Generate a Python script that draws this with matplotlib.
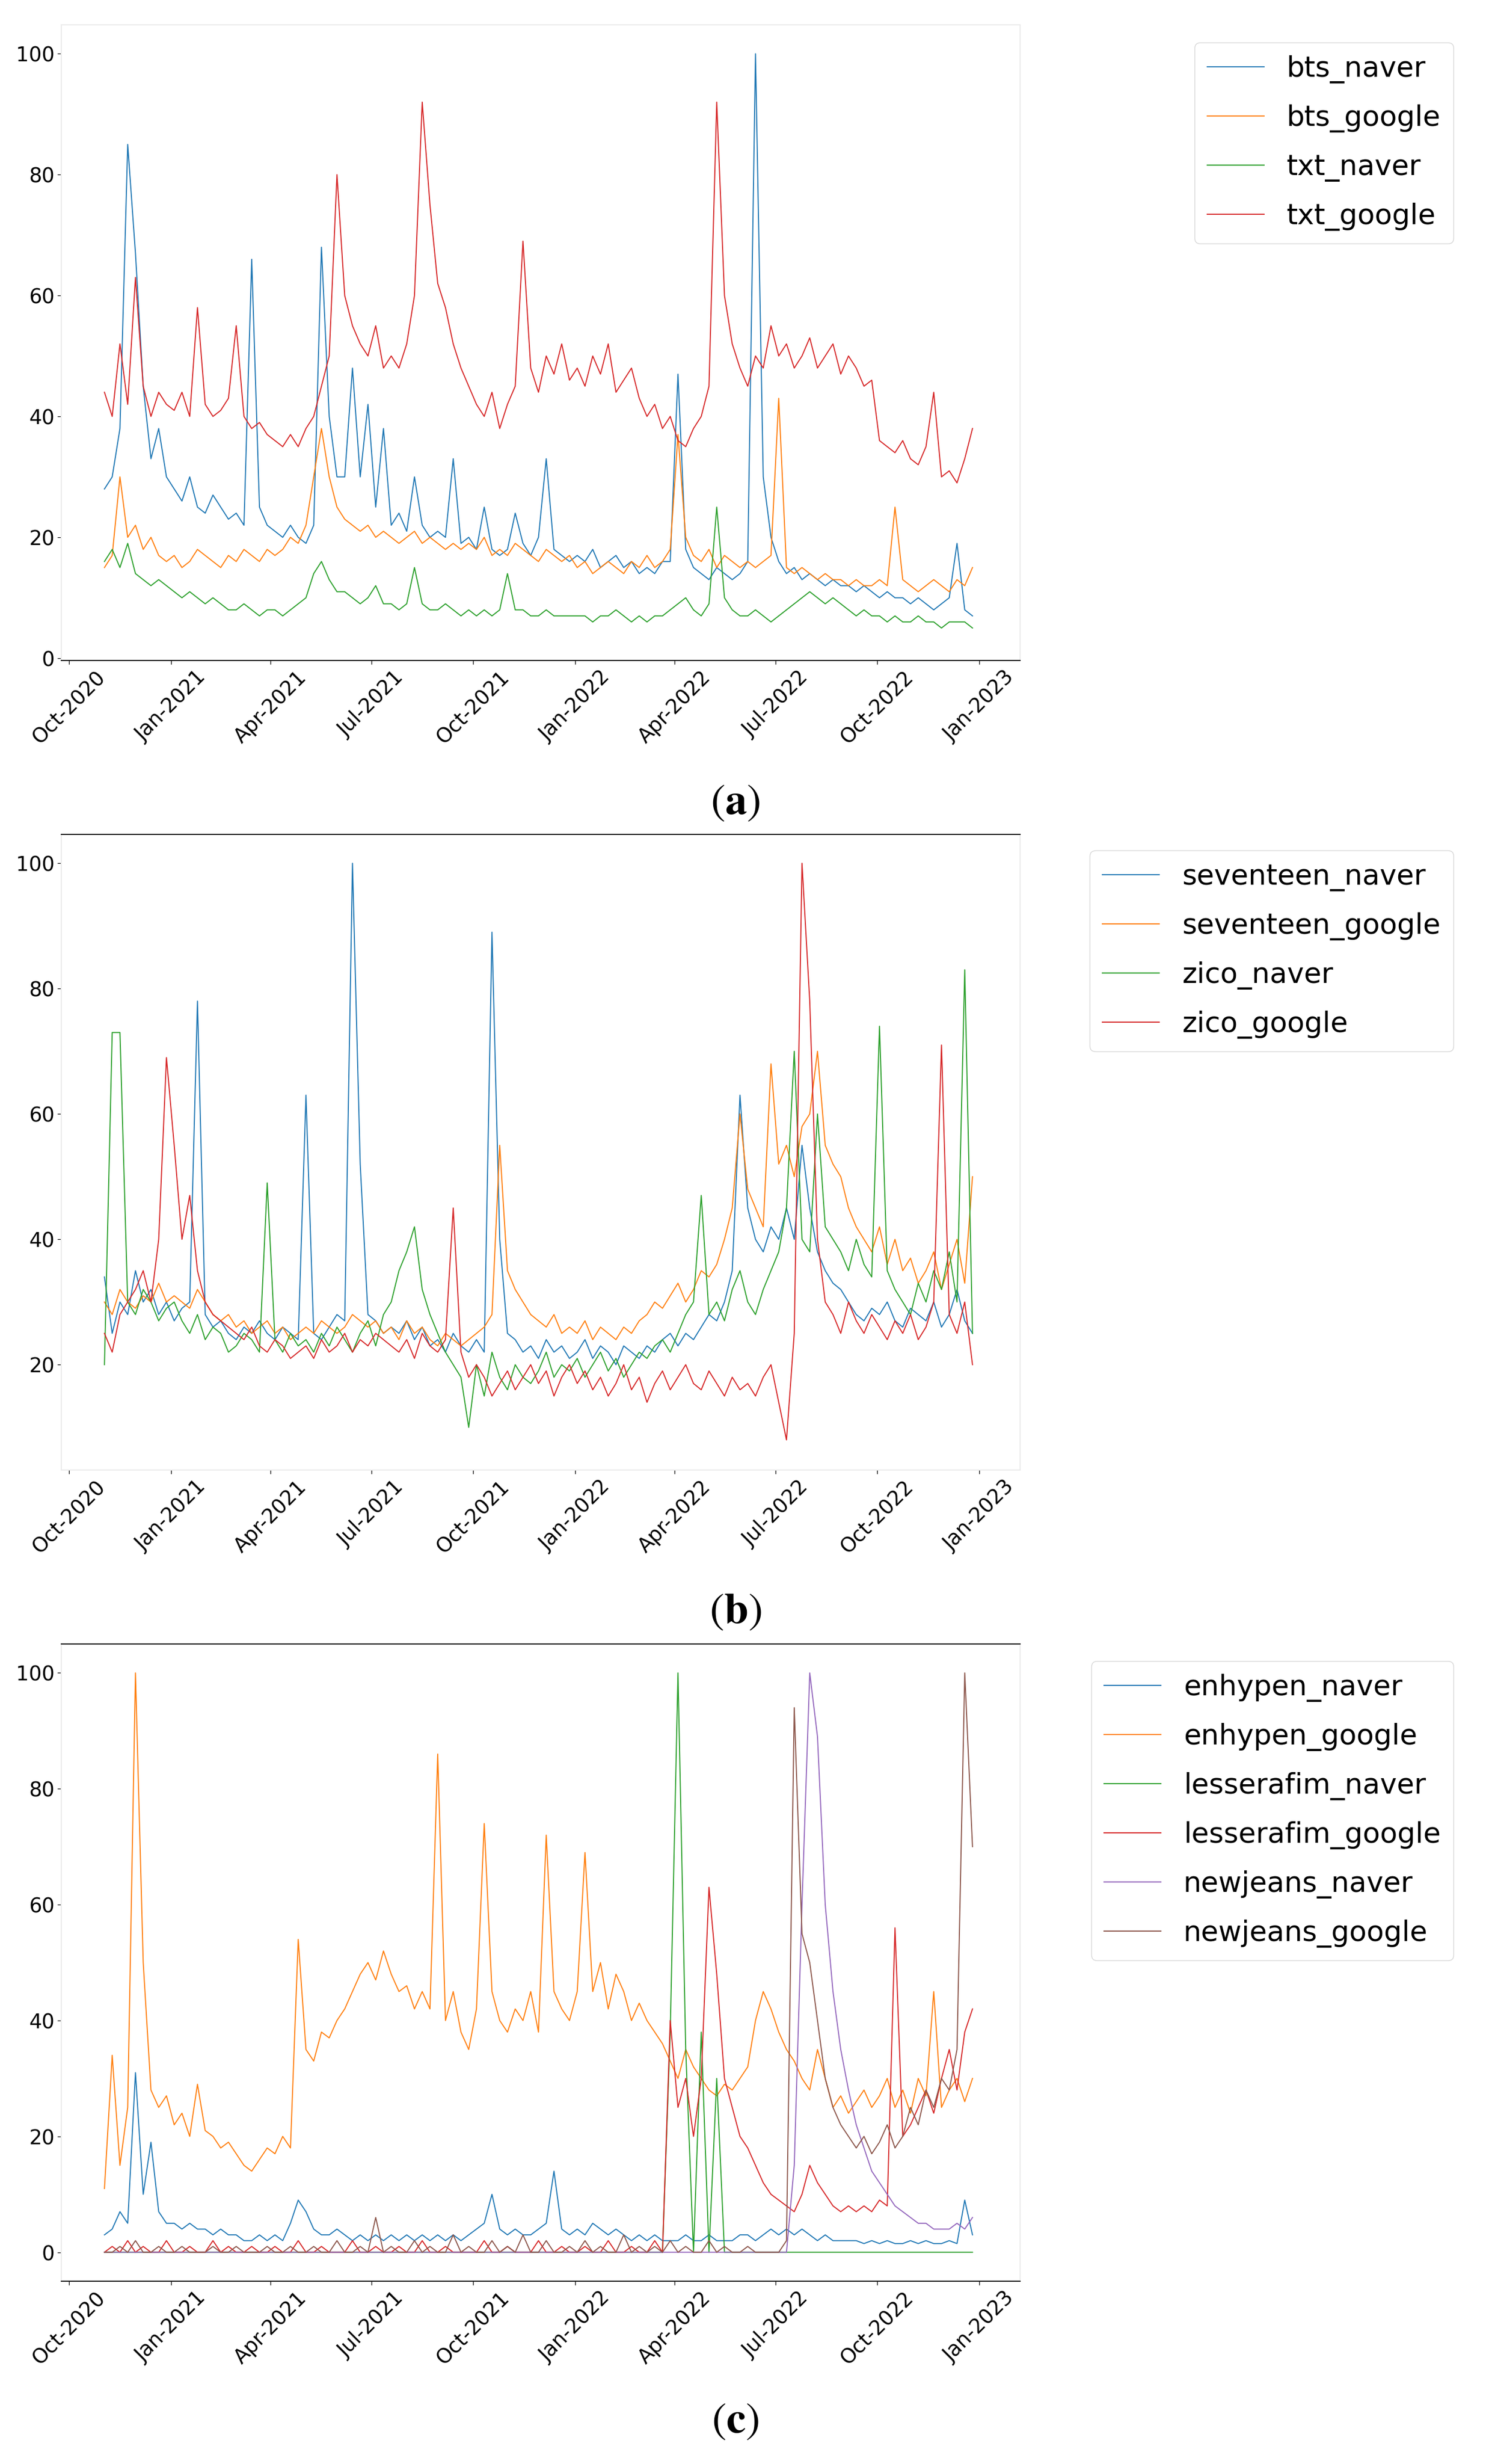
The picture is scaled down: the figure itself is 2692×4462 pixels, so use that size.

# Weekly search-interest index for K-pop artists on Naver and Google.
# Three stacked panels (a)-(c), each with its legend on the right.

import numpy as np
import pandas as pd
import matplotlib
matplotlib.use("Agg")
import matplotlib.pyplot as plt
import matplotlib.dates as mdates

# --- data (one value per week from 2020-11-02) ---
START_DATE = "2020-11-02"

BTS_NAVER = [28, 30, 38, 85, 67, 45, 33, 38, 30,
             28, 26, 30, 25, 24, 27, 25, 23,
             24, 22, 66, 25, 22,
             21, 20, 22, 20,
             19, 22, 68, 40, 30,
             30, 48, 30, 42, 25, 38,
             22, 24, 21, 30, 22, 20, 21,
             20, 33, 19, 20,
             18, 25, 18, 17,
             18, 24, 19, 17, 20,
             33, 18, 17, 16,
             17, 16, 18, 15, 16, 17, 15, 16, 14,
             15, 14, 16, 16, 47, 18, 15, 14,
             13, 15, 14, 13, 14,
             16, 100, 30, 20,
             16, 14, 15, 13, 14, 13, 12, 13, 12,
             12, 11, 12, 11, 10, 11, 10, 10,
             9, 10, 9, 8, 9, 10, 19, 8, 7]
BTS_GOOGLE = [15, 17, 30, 20, 22, 18, 20, 17, 16,
              17, 15, 16, 18, 17, 16, 15, 17,
              16, 18, 17, 16, 18,
              17, 18, 20, 19,
              22, 30, 38, 30, 25,
              23, 22, 21, 22, 20, 21,
              20, 19, 20, 21, 19, 20, 19,
              18, 19, 18, 19,
              18, 20, 17, 18,
              17, 19, 18, 17, 16,
              18, 17, 16, 17,
              15, 16, 14, 15, 16, 15, 14, 16, 15,
              17, 15, 16, 18, 37, 20, 17, 16,
              18, 15, 17, 16, 15,
              16, 15, 16, 17,
              43, 15, 14, 15, 14, 13, 14, 13, 13,
              12, 13, 12, 12, 13, 12, 25, 13,
              12, 11, 12, 13, 12, 11, 13, 12, 15]
TXT_NAVER = [16, 18, 15, 19, 14, 13, 12, 13, 12,
             11, 10, 11, 10, 9, 10, 9, 8,
             8, 9, 8, 7, 8,
             8, 7, 8, 9,
             10, 14, 16, 13, 11,
             11, 10, 9, 10, 12, 9,
             9, 8, 9, 15, 9, 8, 8,
             9, 8, 7, 8,
             7, 8, 7, 8,
             14, 8, 8, 7, 7,
             8, 7, 7, 7,
             7, 7, 6, 7, 7, 8, 7, 6, 7,
             6, 7, 7, 8, 9, 10, 8, 7,
             9, 25, 10, 8, 7,
             7, 8, 7, 6,
             7, 8, 9, 10, 11, 10, 9, 10, 9,
             8, 7, 8, 7, 7, 6, 7, 6,
             6, 7, 6, 6, 5, 6, 6, 6, 5]
TXT_GOOGLE = [44, 40, 52, 42, 63, 45, 40, 44, 42,
              41, 44, 40, 58, 42, 40, 41, 43,
              55, 40, 38, 39, 37,
              36, 35, 37, 35,
              38, 40, 45, 50, 80,
              60, 55, 52, 50, 55, 48,
              50, 48, 52, 60, 92, 75, 62,
              58, 52, 48, 45,
              42, 40, 44, 38,
              42, 45, 69, 48, 44,
              50, 47, 52, 46,
              48, 45, 50, 47, 52, 44, 46, 48, 43,
              40, 42, 38, 40, 36, 35, 38, 40,
              45, 92, 60, 52, 48,
              45, 50, 48, 55,
              50, 52, 48, 50, 53, 48, 50, 52, 47,
              50, 48, 45, 46, 36, 35, 34, 36,
              33, 32, 35, 44, 30, 31, 29, 33, 38]

SEVENTEEN_NAVER = [34, 25, 30, 28, 35, 30, 32, 28, 30,
                   27, 29, 30, 78, 28, 26, 27, 25,
                   24, 26, 25, 27, 25,
                   24, 26, 25, 24,
                   63, 25, 24, 26, 28,
                   27, 100, 52, 28, 27, 25,
                   26, 25, 27, 24, 26, 23, 24,
                   22, 25, 23, 22,
                   24, 22, 89, 40,
                   25, 24, 22, 23, 21,
                   24, 22, 23, 21,
                   22, 24, 21, 23, 22, 20, 23, 22, 21,
                   23, 22, 24, 25, 23, 25, 24, 26,
                   28, 27, 30, 35, 63,
                   45, 40, 38, 42,
                   40, 45, 40, 55, 45, 38, 35, 33, 32,
                   30, 28, 27, 29, 28, 30, 27, 26,
                   29, 28, 27, 30, 26, 28, 32, 27, 25]
SEVENTEEN_GOOGLE = [30, 28, 32, 30, 29, 31, 30, 33, 30,
                    31, 30, 29, 32, 30, 28, 27, 28,
                    26, 27, 25, 26, 27,
                    25, 26, 24, 25,
                    26, 25, 27, 26, 25,
                    26, 28, 27, 26, 27, 25,
                    26, 24, 27, 25, 26, 24, 23,
                    25, 24, 23, 24,
                    25, 26, 28, 55,
                    35, 32, 30, 28, 27,
                    26, 28, 25, 26,
                    25, 27, 24, 26, 25, 24, 26, 25, 27,
                    28, 30, 29, 31, 33, 30, 32, 35,
                    34, 36, 40, 45, 60,
                    48, 45, 42, 68,
                    52, 55, 50, 58, 60, 70, 55, 52, 50,
                    45, 42, 40, 38, 42, 36, 40, 35,
                    37, 33, 35, 38, 32, 36, 40, 33, 50]
ZICO_NAVER = [20, 73, 73, 30, 28, 32, 30, 27, 29,
              30, 27, 25, 28, 24, 26, 25, 22,
              23, 25, 24, 22, 49,
              24, 22, 25, 23,
              24, 22, 25, 23, 26,
              24, 22, 25, 27, 23, 28,
              30, 35, 38, 42, 32, 28, 25,
              22, 20, 18, 10,
              20, 15, 22, 18,
              16, 20, 18, 17, 19,
              22, 18, 20, 19,
              21, 18, 20, 22, 19, 21, 18, 20, 22,
              21, 23, 24, 22, 25, 28, 30, 47,
              28, 30, 27, 32, 35,
              30, 28, 32, 35,
              38, 45, 70, 40, 38, 60, 42, 40, 38,
              35, 40, 36, 34, 74, 35, 32, 30,
              28, 33, 30, 35, 32, 38, 30, 83, 25]
ZICO_GOOGLE = [25, 22, 28, 30, 32, 35, 30, 40, 69,
               55, 40, 47, 35, 30, 28, 27, 26,
               25, 24, 26, 23, 22,
               24, 23, 21, 22,
               23, 21, 24, 22, 23,
               25, 22, 24, 23, 25, 24,
               23, 22, 24, 21, 25, 23, 22,
               24, 45, 22, 18,
               20, 18, 15, 17,
               19, 16, 18, 20, 17,
               19, 15, 18, 20,
               17, 19, 16, 18, 15, 17, 20, 16, 18,
               14, 17, 19, 16, 18, 20, 17, 16,
               19, 17, 15, 18, 16,
               17, 15, 18, 20,
               14, 8, 25, 100, 78, 40, 30, 28, 25,
               30, 27, 25, 28, 26, 24, 27, 25,
               28, 24, 26, 30, 71, 28, 25, 30, 20]

ENHYPEN_NAVER = [3, 4, 7, 5, 31, 10, 19, 7, 5,
                 5, 4, 5, 4, 4, 3, 4, 3,
                 3, 2, 2, 3, 2,
                 3, 2, 5, 9,
                 7, 4, 3, 3, 4,
                 3, 2, 3, 2, 3, 2,
                 3, 2, 3, 2, 3, 2, 3,
                 2, 3, 2, 3,
                 4, 5, 10, 4,
                 3, 4, 3, 3, 4,
                 5, 14, 4, 3,
                 4, 3, 5, 4, 3, 4, 3, 2, 3,
                 2, 3, 2, 2, 2, 3, 2, 2,
                 3, 2, 2, 2, 3,
                 3, 2, 3, 4,
                 3, 4, 3, 4, 3, 2, 3, 2, 2,
                 2, 2, 1.5, 2, 1.5, 2, 1.5, 1.5,
                 2, 1.5, 2, 1.5, 1.5, 2, 1.5, 9, 3]
ENHYPEN_GOOGLE = [11, 34, 15, 25, 100, 50, 28, 25, 27,
                  22, 24, 20, 29, 21, 20, 18, 19,
                  17, 15, 14, 16, 18,
                  17, 20, 18, 54,
                  35, 33, 38, 37, 40,
                  42, 45, 48, 50, 47, 52,
                  48, 45, 46, 42, 45, 42, 86,
                  40, 45, 38, 35,
                  42, 74, 45, 40,
                  38, 42, 40, 45, 38,
                  72, 45, 42, 40,
                  45, 69, 45, 50, 42, 48, 45, 40, 43,
                  40, 38, 36, 33, 30, 35, 32, 30,
                  28, 27, 29, 28, 30,
                  32, 40, 45, 42,
                  38, 35, 33, 30, 28, 35, 30, 25, 27,
                  24, 26, 28, 25, 27, 30, 25, 28,
                  24, 30, 27, 45, 25, 28, 30, 26, 30]
LESSERAFIM_NAVER = [0] * 70 + [0, 0, 0, 38, 100, 35, 0, 38,
                               0, 30, 0, 0, 0] + [0] * 30
LESSERAFIM_GOOGLE = [0, 1, 0, 2, 0, 1, 0, 0, 2,
                     0, 0, 1, 0, 0, 2, 0, 1,
                     0, 0, 1, 0, 0,
                     1, 0, 0, 2,
                     0, 0, 1, 0, 0,
                     0, 2, 0, 0, 1, 0,
                     0, 1, 0, 0, 2, 0, 0,
                     1, 0, 0, 0,
                     0, 2, 0, 0,
                     1, 0, 0, 0, 2,
                     0, 0, 1, 0,
                     0, 1, 0, 0, 2, 0, 0, 1, 0,
                     0, 2, 0, 40, 25, 30, 20, 30,
                     63, 48, 30, 25, 20,
                     18, 15, 12, 10,
                     9, 8, 7, 10, 15, 12, 10, 8, 7,
                     8, 7, 8, 7, 9, 8, 56, 20,
                     22, 25, 28, 24, 30, 35, 28, 38, 42]
NEWJEANS_NAVER = [0] * 87 + [0, 0, 15, 60, 100, 89, 60, 45, 35,
                             28, 22, 18, 14, 12, 10, 8, 7,
                             6, 5, 5, 4, 4, 4, 5, 4, 6]
NEWJEANS_GOOGLE = [0, 0, 1, 0, 2, 0, 0, 1, 0,
                   0, 1, 0, 0, 0, 1, 0, 0,
                   1, 0, 0, 0, 1,
                   0, 0, 1, 0,
                   0, 1, 0, 0, 2,
                   0, 0, 1, 0, 6, 0,
                   1, 0, 0, 2, 0, 1, 0,
                   0, 3, 0, 1,
                   0, 0, 2, 0,
                   1, 0, 3, 0, 0,
                   2, 0, 0, 1,
                   0, 2, 0, 1, 0, 0, 3, 0, 1,
                   0, 1, 0, 2, 0, 1, 0, 0,
                   2, 0, 1, 0, 0,
                   1, 0, 0, 0,
                   0, 2, 94, 55, 50, 40, 30, 25, 22,
                   20, 18, 20, 17, 19, 22, 18, 20,
                   25, 22, 28, 25, 30, 28, 35, 100, 70]

PANEL_A = {"bts_naver": BTS_NAVER, "bts_google": BTS_GOOGLE,
           "txt_naver": TXT_NAVER, "txt_google": TXT_GOOGLE}
PANEL_B = {"seventeen_naver": SEVENTEEN_NAVER, "seventeen_google": SEVENTEEN_GOOGLE,
           "zico_naver": ZICO_NAVER, "zico_google": ZICO_GOOGLE}
PANEL_C = {"enhypen_naver": ENHYPEN_NAVER, "enhypen_google": ENHYPEN_GOOGLE,
           "lesserafim_naver": LESSERAFIM_NAVER, "lesserafim_google": LESSERAFIM_GOOGLE,
           "newjeans_naver": NEWJEANS_NAVER, "newjeans_google": NEWJEANS_GOOGLE}

# --- layout (pixels of the 2692 x 4462 canvas) ---
W, H, DPI = 2692, 4462, 100
FRAME_GREY = "#ebebeb"


def px_box(left, top, right, bottom):
    """Figure-fraction rectangle from pixel edges."""
    return [left / W, 1 - bottom / H, (right - left) / W, (bottom - top) / H]


def draw_panel(fig, box, series, ylim, black_spines, legend_top, caption, caption_y):
    ax = fig.add_axes(px_box(*box))
    for name, values in series.items():
        dates = pd.date_range(START_DATE, periods=len(values), freq="7D")
        ax.plot(dates, values, lw=1.4, label=name)

    ax.set_xlim(pd.Timestamp("2020-09-24"), pd.Timestamp("2023-02-07"))
    ax.set_yticks(np.arange(0, 101, 20))
    ax.set_ylim(*ylim)  # after set_yticks, which would otherwise widen the view
    ax.xaxis.set_major_locator(mdates.MonthLocator(bymonth=[1, 4, 7, 10]))
    ax.xaxis.set_major_formatter(mdates.DateFormatter("%b-%Y"))
    ax.tick_params(labelsize=26.5, length=5, width=0.9)
    ax.tick_params(axis="x", labelrotation=45)

    for side, spine in ax.spines.items():
        if side in black_spines:
            spine.set_color("black")
            spine.set_linewidth(1.3)
        else:
            spine.set_color(FRAME_GREY)
            spine.set_linewidth(1.5)

    ax.legend(loc="upper right", bbox_to_anchor=(2633 / W, 1 - legend_top / H),
              bbox_transform=fig.transFigure, borderaxespad=0, fontsize=37,
              labelspacing=0.74, borderpad=0.45)

    fig.text(1332 / W, 1 - caption_y / H, r"$(\mathbf{%s})$" % caption,
             ha="center", va="center", fontsize=57)
    return ax


if __name__ == "__main__":
    plt.rcParams["mathtext.fontset"] = "stix"
    fig = plt.figure(figsize=(W / DPI, H / DPI), dpi=DPI)

    draw_panel(fig, (111, 45, 1848, 1196), PANEL_A, (-0.37, 104.78),
               ["bottom"], 77, "a", 1452)
    draw_panel(fig, (111, 1511, 1848, 2662), PANEL_B, (3.2, 104.6),
               ["top"], 1540, "b", 2917)
    draw_panel(fig, (111, 2977, 1848, 4131), PANEL_C, (-5, 105),
               ["top", "bottom"], 3008, "c", 4383)

    fig.savefig("out.png", dpi=DPI)
